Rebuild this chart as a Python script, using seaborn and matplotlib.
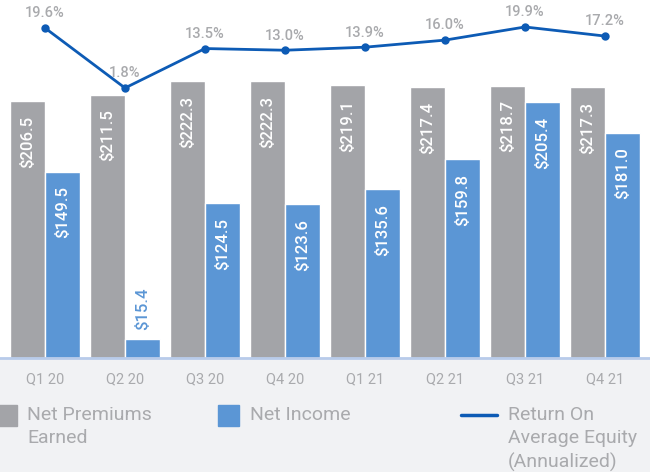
import matplotlib
matplotlib.use("Agg")
import matplotlib.pyplot as plt
import seaborn as sns
import pandas as pd
from matplotlib.patches import Rectangle
from matplotlib.lines import Line2D

quarters = ["Q1 20", "Q2 20", "Q3 20", "Q4 20", "Q1 21", "Q2 21", "Q3 21", "Q4 21"]
net_premiums = [206.5, 211.5, 222.3, 222.3, 219.1, 217.4, 218.7, 217.3]
net_income = [149.5, 15.4, 124.5, 123.6, 135.6, 159.8, 205.4, 181.0]
roe = [19.6, 1.8, 13.5, 13.0, 13.9, 16.0, 19.9, 17.2]
series_names = ["Net Premiums\nEarned", "Net Income"]
line_name = "Return On\nAverage Equity\n(Annualized)"

GRAY = "#a3a4a8"
BLUE = "#5b96d5"
LINE = "#0d5bb5"
TEXT = "#a9aaad"
BG = "#f1f2f4"

sns.set_theme(style="white")
plt.rcParams["font.family"] = ["Roboto", "DejaVu Sans"]

df = pd.DataFrame({
    "quarter": quarters * 2,
    "value": net_premiums + net_income,
    "series": [series_names[0]] * len(quarters) + [series_names[1]] * len(quarters),
})

fig = plt.figure(figsize=(6.5, 4.72), dpi=100, facecolor=BG)
ax = fig.add_axes([0, (472 - 358) / 472, 1, 358 / 472])
ax.set_facecolor("white")

sns.barplot(data=df, x="quarter", y="value", hue="series", order=quarters,
            hue_order=series_names, palette=[GRAY, BLUE], width=0.875,
            saturation=1, ax=ax, legend=False)

for cont in ax.containers:
    for bar in cont:
        h = bar.get_height()
        xc = bar.get_x() + bar.get_width() / 2
        lab = f"${h:.1f}"
        if h < 60:
            ax.annotate(lab, (xc, h), xytext=(0, 6.5), textcoords="offset points",
                        rotation=90, ha="center", va="bottom", color=BLUE,
                        fontsize=12, fontweight="medium")
        else:
            ax.annotate(lab, (xc, h), xytext=(0, -10.5), textcoords="offset points",
                        rotation=90, ha="center", va="top", color="white",
                        fontsize=12, fontweight="medium")

ax.set_ylim(0, 358 / 1.245)
ax.set_xlim(-0.5625, 7.5625)
ax.set_xlabel("")
ax.set_ylabel("")
ax.set_yticks([])
for s in ["top", "left", "right"]:
    ax.spines[s].set_visible(False)
ax.spines["bottom"].set_color("#b8cbea")
ax.spines["bottom"].set_linewidth(2)
ax.tick_params(axis="x", length=0, pad=10, labelsize=10.5, labelcolor=TEXT)
for t in ax.get_xticklabels():
    t.set_fontweight("normal")

ax2 = ax.twinx()
sns.pointplot(x=quarters, y=roe, order=quarters, color=LINE, markers="o",
              markersize=4.5, linewidth=2, ax=ax2)
ax2.set_ylim(-78.3, 27.9)
ax2.set_xlim(-0.5625, 7.5625)
ax2.set_yticks([])
for s in ["top", "left", "right", "bottom"]:
    ax2.spines[s].set_visible(False)
for i, v in enumerate(roe):
    ax2.annotate(f"{v:.1f}%", (i, v), xytext=(0, 5.5), textcoords="offset points",
                 ha="center", va="bottom", color=TEXT, fontsize=10.5,
                 fontweight="medium")

# legend
LS = 1.38
fig.patches.append(Rectangle((-4 / 650, 1 - 426 / 472), 21 / 650, 21 / 472,
                             transform=fig.transFigure, color=GRAY))
fig.text(27 / 650, 1 - 406 / 472, series_names[0], va="top", ha="left",
         fontsize=14, color=TEXT, fontweight="normal", linespacing=LS)
fig.patches.append(Rectangle((218 / 650, 1 - 426 / 472), 21 / 650, 21 / 472,
                             transform=fig.transFigure, color=BLUE))
fig.text(250 / 650, 1 - 406 / 472, series_names[1], va="top", ha="left",
         fontsize=14, color=TEXT, fontweight="normal", linespacing=LS)
fig.lines.append(Line2D([461 / 650, 497 / 650], [1 - 415 / 472, 1 - 415 / 472],
                        transform=fig.transFigure, color=LINE, linewidth=2.5))
fig.text(508 / 650, 1 - 406 / 472, line_name, va="top", ha="left",
         fontsize=14, color=TEXT, fontweight="normal", linespacing=LS)

fig.savefig("out.png", dpi=100, facecolor=BG)
